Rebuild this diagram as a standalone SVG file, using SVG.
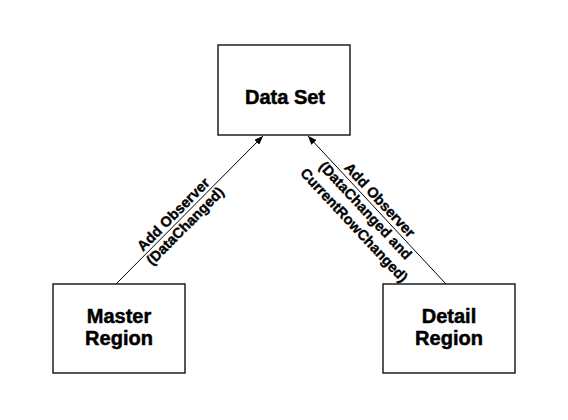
<svg xmlns="http://www.w3.org/2000/svg" width="568" height="420" viewBox="0 0 568 420">
<defs>
<marker id="arr" viewBox="0 0 10 8" refX="10" refY="4" markerWidth="9" markerHeight="7" markerUnits="userSpaceOnUse" orient="auto">
<path d="M0,0 L10,4 L0,8 Z" fill="#000"/>
</marker>
<style>
.box{fill:#fff;stroke:#111;stroke-width:1.4}
.nt{font-family:"Liberation Sans",Arial,sans-serif;font-weight:bold;font-size:20px;text-anchor:middle;fill:#000;stroke:#000;stroke-width:0.5}
.lt{font-family:"Liberation Sans",Arial,sans-serif;font-weight:bold;font-size:14.5px;text-anchor:middle;fill:#000;stroke:#000;stroke-width:0.35}
.edge{stroke:#000;stroke-width:1;fill:none;marker-end:url(#arr)}
</style>
</defs>
<rect width="568" height="420" fill="#fff"/>
<g id="connectors">
<line class="edge" x1="116" y1="284" x2="263" y2="136"/>
<line class="edge" x1="446" y1="284" x2="308" y2="136"/>
<g transform="translate(179,220) rotate(-45.2)">
<text class="lt" x="0" y="-3">Add Observer</text>
<text class="lt" x="0" y="13.5">(DataChanged)</text>
</g>
<g transform="translate(366,210) rotate(47)">
<text class="lt" x="2" y="-12">Add Observer</text>
<text class="lt" x="0" y="5.5">(DataChanged and</text>
<text class="lt" x="3" y="24">CurrentRowChanged)</text>
</g>
</g>
<g id="dataset">
<rect class="box" x="218" y="45" width="132" height="90"/>
<text class="nt" x="285" y="104">Data Set</text>
</g>
<g id="master">
<rect class="box" x="53" y="284" width="132" height="89"/>
<text class="nt" x="119" y="323">Master</text>
<text class="nt" x="119" y="345">Region</text>
</g>
<g id="detail">
<rect class="box" x="383" y="284" width="132" height="89"/>
<text class="nt" x="449" y="323">Detail</text>
<text class="nt" x="449" y="345">Region</text>
</g>
</svg>
